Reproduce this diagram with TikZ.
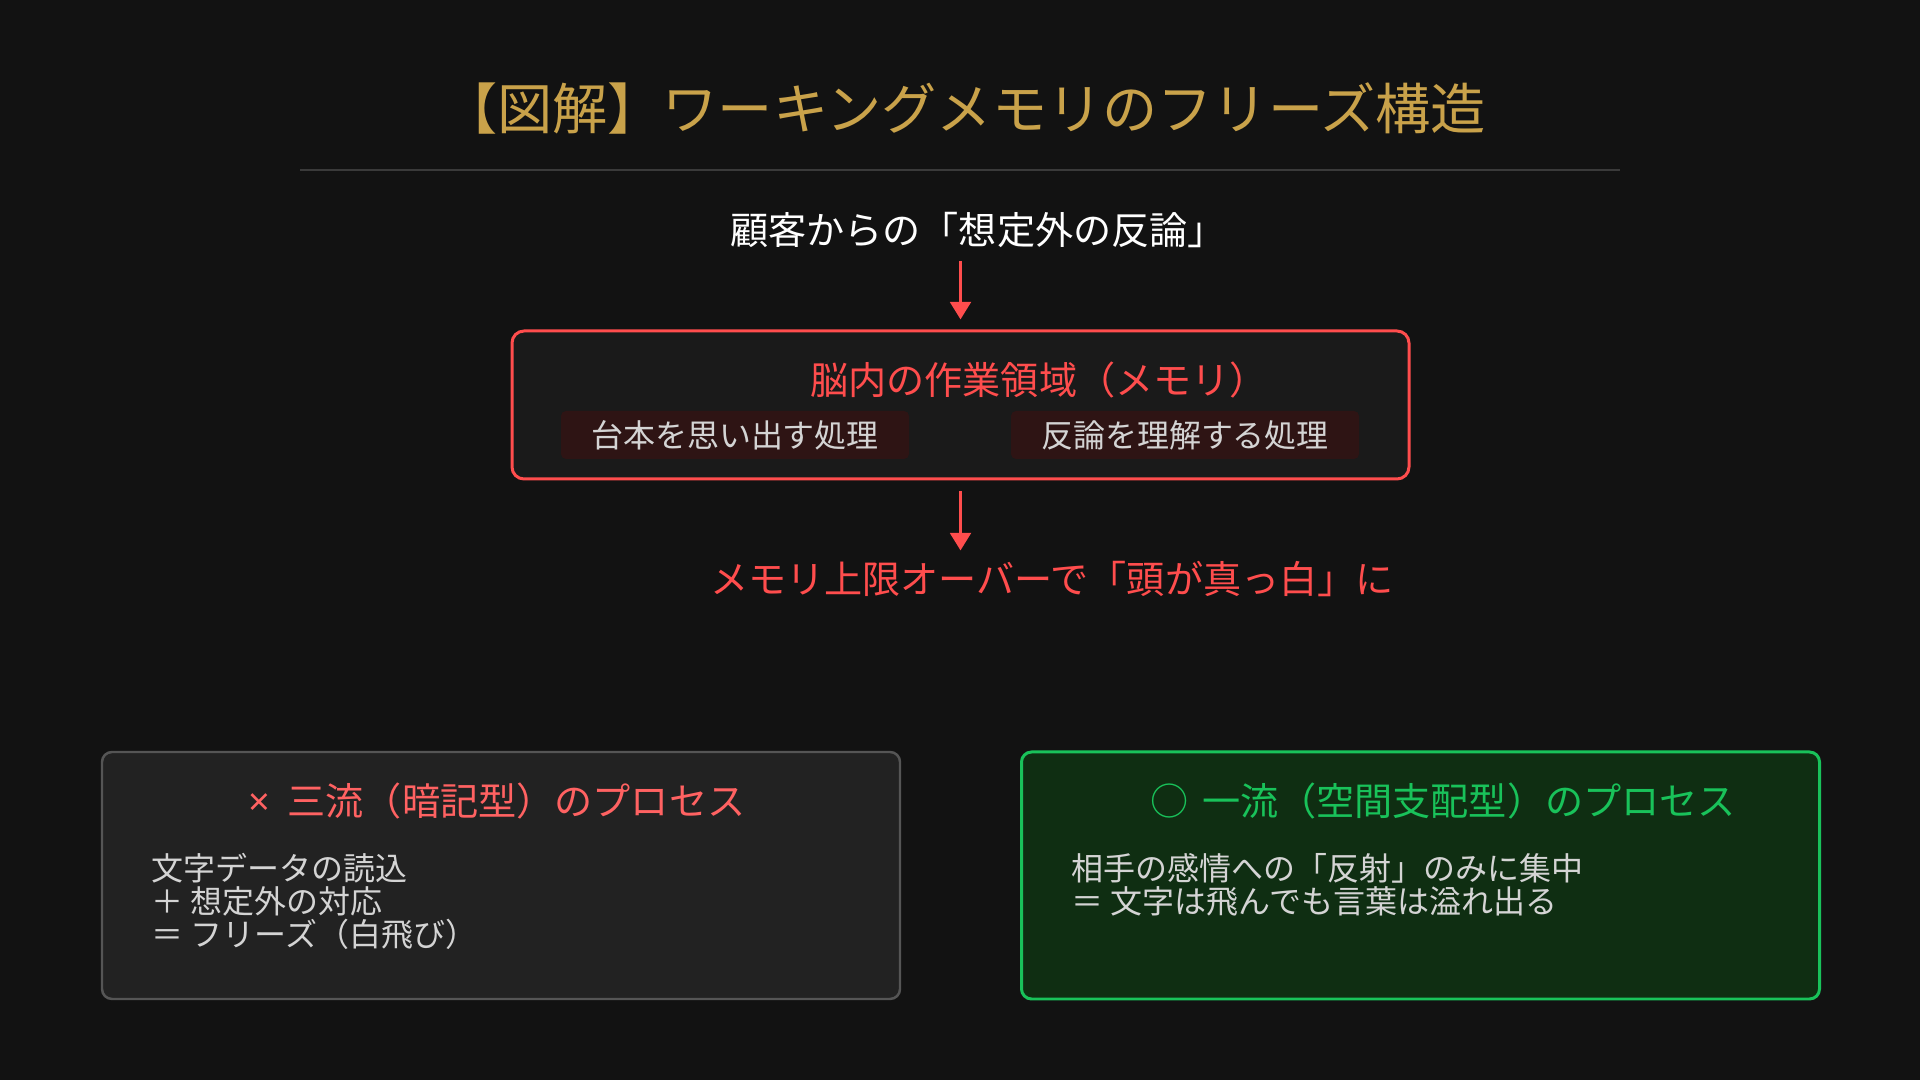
\documentclass[tikz,border=0pt]{standalone}
\usepackage{fontspec}
\setmainfont{Noto Sans CJK JP}
\newfontfamily\latinfont{Noto Sans}
\usetikzlibrary{arrows.meta}

\definecolor{bgdark}{HTML}{121212}
\definecolor{rulegray}{HTML}{3A3A3A}
\definecolor{titlegold}{HTML}{C9A24A}
\definecolor{alertred}{HTML}{FF4D4D}
\definecolor{softred}{HTML}{FF6262}
\definecolor{memfill}{HTML}{1A1A1A}
\definecolor{taskfill}{HTML}{2E1414}
\definecolor{lighttext}{HTML}{D4D4D4}
\definecolor{badfill}{HTML}{222222}
\definecolor{baddraw}{HTML}{555555}
\definecolor{goodfill}{HTML}{0F2E12}
\definecolor{gooddraw}{HTML}{19C25A}

\tikzset{
  midtext/.style={font=\fontsize{10.85}{12}\selectfont, inner sep=0},
  tasktext/.style={font=\fontsize{9.1}{10}\selectfont, text=lighttext, fill=taskfill,
    rounded corners=0.05cm, minimum width=3.48cm, minimum height=0.48cm, inner sep=0},
  bodytext/.style={font=\fontsize{9.1}{9.4}\selectfont, text=lighttext, align=left, inner sep=0},
  flow/.style={draw=alertred, line width=1.1pt, -{Triangle[length=5pt, width=5.8pt]}},
  panel/.style={rounded corners=0.1cm, minimum width=7.98cm, minimum height=2.47cm, inner sep=0}
}

\begin{document}
\begin{tikzpicture}
  \fill[bgdark] (0, 0) rectangle (19.2, 10.8);
  \useasboundingbox (0, 0) rectangle (19.2, 10.8);

  % heading
  \node[font=\fontsize{15.7}{18}\selectfont, text=titlegold, inner sep=0] (title) at (9.64, 9.72) {【図解】ワーキングメモリのフリーズ構造};
  \draw[rulegray, line width=0.6pt] (3.0, 9.10) -- (16.2, 9.10);

  % flow
  \node[midtext, text=white] (question) at (9.78, 8.50) {顧客からの「想定外の反論」};

  \node[draw=alertred, fill=memfill, line width=0.85pt, rounded corners=0.12cm,
    minimum width=8.97cm, minimum height=1.48cm] (memory) at (9.605, 6.75) {};
  \node[midtext, text=alertred] (memtitle) at (10.39, 7.00) {脳内の作業領域（メモリ）};
  \node[tasktext] (scriptjob) at (7.35, 6.45) {台本を思い出す処理};
  \node[tasktext] (rebutjob) at (11.85, 6.45) {反論を理解する処理};

  \node[midtext, text=alertred] (overflow) at (10.52, 5.01) {メモリ上限オーバーで「頭が真っ白」に};

  \draw[flow, shorten <=0.125cm, shorten >=0.1cm] (memory.north |- question.south) -- (memory.north);
  \draw[flow, shorten <=0.11cm, shorten >=0.1cm] (memory.south) -- (memory.south |- overflow.north);

  % bottom panels
  \node[panel, draw=baddraw, fill=badfill, line width=0.7pt] (badbox) at (5.01, 2.045) {};
  \node[midtext, text=softred] (badtitle) at (4.97, 2.79) {{\latinfont ×}\hspace{0.45em}三流（暗記型）のプロセス};
  \node[bodytext, anchor=west] (badtext) at (1.51, 1.79) {文字データの読込\\＋ 想定外の対応\\＝ フリーズ（白飛び）};

  \node[panel, draw=gooddraw, fill=goodfill, line width=0.85pt] (goodbox) at (14.205, 2.045) {};
  \node[midtext, text=gooddraw] (goodtitle) at (14.43, 2.79) {○\hspace{0.36em}一流（空間支配型）のプロセス};
  \node[bodytext, anchor=west] (goodtext) at (10.71, 1.955) {相手の感情への「反射」のみに集中\\＝ 文字は飛んでも言葉は溢れ出る};
\end{tikzpicture}
\end{document}
